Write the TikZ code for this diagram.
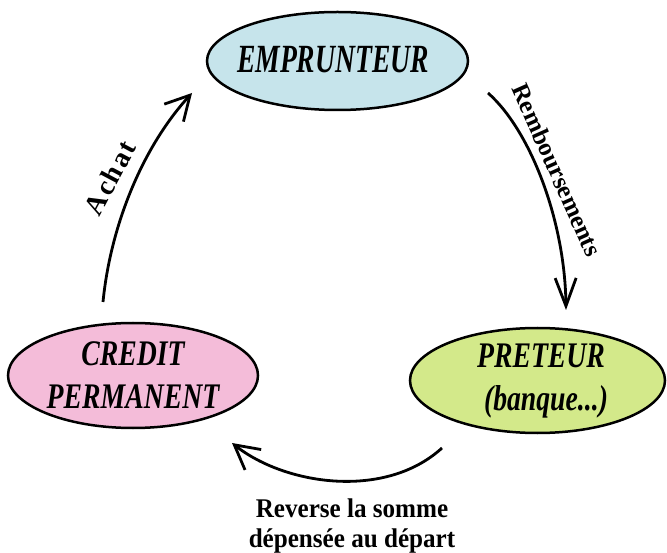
\documentclass[tikz,border=0pt]{standalone}
\usepackage{fontspec}
\setmainfont{Liberation Serif}
\newfontfamily\empfont[FakeStretch=0.69]{Liberation Serif}
\newfontfamily\condfont[FakeStretch=0.77]{Liberation Serif}
\newfontfamily\lblfont[FakeStretch=0.93]{Liberation Serif}
\newfontfamily\spacedfont[LetterSpace=7]{Liberation Serif}
\usetikzlibrary{shapes.geometric,arrows.meta}
\definecolor{cblue}{HTML}{C6E4EB}
\definecolor{cpink}{HTML}{F4BCD9}
\definecolor{cgreen}{HTML}{D3E98A}
\tikzset{
  ell/.style={ellipse,draw=black,line width=2.5pt,inner sep=0pt},
  etext/.style={font=\condfont\bfseries\itshape\fontsize{36}{43}\selectfont,align=center,inner sep=0pt},
  flow/.style={line width=2.8pt,-{Straight Barb[length=24pt,width=26pt]}},
  lbl/.style={font=\lblfont\bfseries\fontsize{27}{30}\selectfont,inner sep=0pt,align=center}
}
\begin{document}
\begin{tikzpicture}[x=1pt,y=-1pt]
\useasboundingbox (0,0) rectangle (667,553);
\node[ell,fill=cblue,minimum width=261pt,minimum height=98pt] (emp) at (337.5,61) {};
\node[ell,fill=cpink,minimum width=250pt,minimum height=105pt] (cred) at (133,375.5) {};
\node[ell,fill=cgreen,minimum width=255pt,minimum height=105pt] (pret) at (537.5,380.5) {};
\node[etext,font=\empfont\bfseries\itshape\fontsize{40}{43}\selectfont] (empt) at (333,60) {EMPRUNTEUR};
\node[etext] (credt) at (cred.center) {CREDIT\\PERMANENT};
\node[etext,anchor=base] (prett1) at (541,368) {PRETEUR};
\node[etext,anchor=base] (prett2) at (546,410) {(banque...)};
\coordinate (r1) at (488,93);
\coordinate (r2) at (566,310);
\coordinate (a1) at (103,302);
\coordinate (a2) at (192,93);
\coordinate (b1) at (442,448);
\coordinate (b2) at (232,443);
\draw[flow,-{Straight Barb[length=28pt,width=21pt]}] (r1) .. controls (530,130) and (565,220) .. (r2);
\draw[flow] (a1) .. controls (110,230) and (140,150) .. (a2);
\draw[flow] (b1) .. controls (385,500) and (285,485) .. (b2);
\node[lbl,font=\bfseries\fontsize{25}{30}\selectfont,rotate=-66] (rl) at (557,170) {Remboursements};
\node[lbl,font=\spacedfont\bfseries\fontsize{28}{30}\selectfont,rotate=62] (al) at (110,178) {Achat};
\node[lbl] (bl) at (352,526) {Reverse la somme\\dépensée au départ};
\end{tikzpicture}
\end{document}
